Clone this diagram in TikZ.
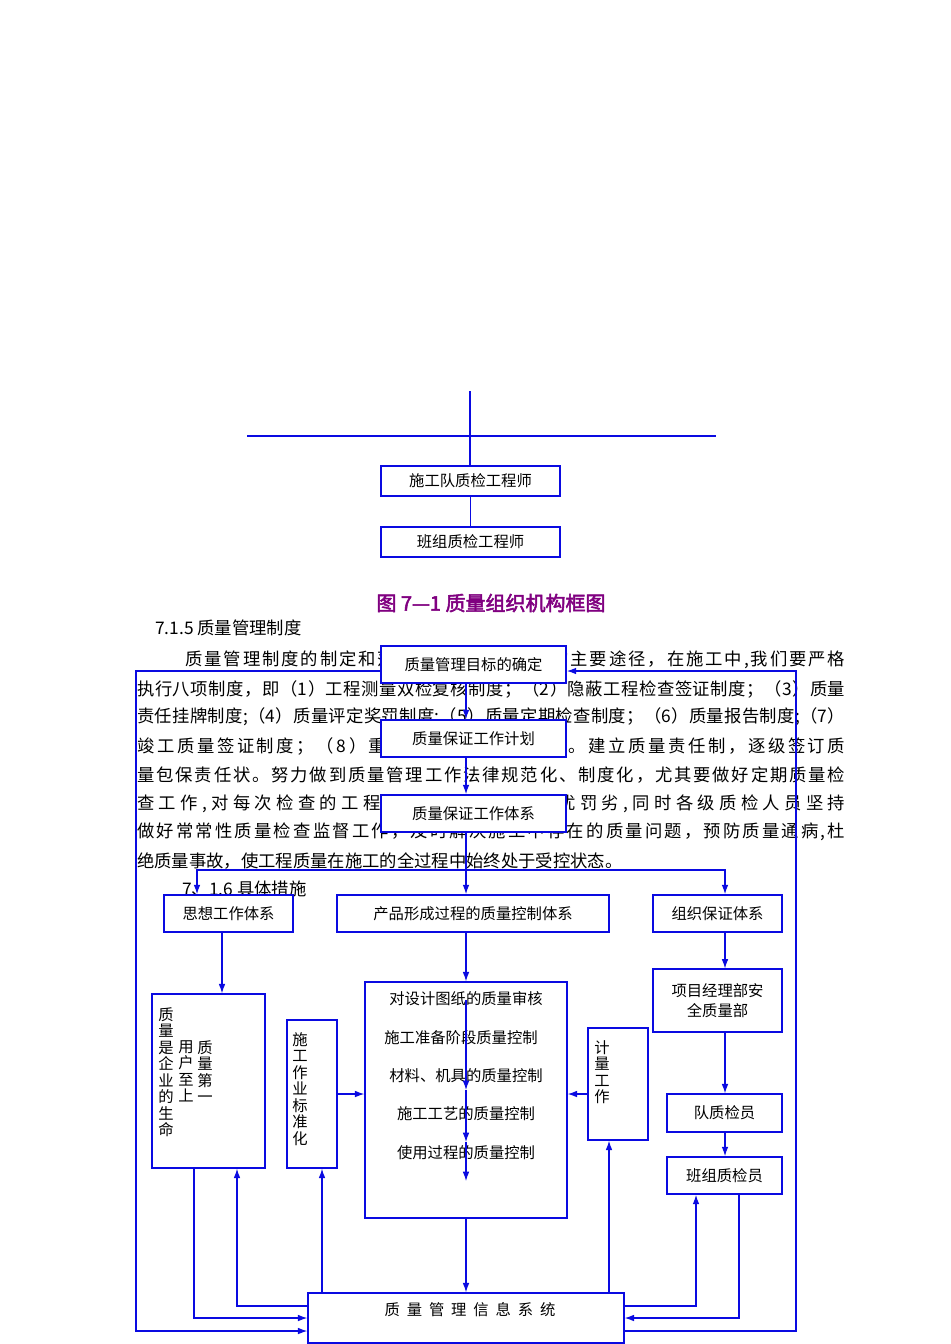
\documentclass[tikz,border=0pt]{standalone}
\usepackage{fontspec}
\setmainfont{Noto Sans CJK SC}
\newfontfamily\cjkb[FakeBold=2.5]{Noto Sans CJK SC}
\usetikzlibrary{arrows.meta}
\definecolor{lb}{RGB}{10,10,225}
\definecolor{tp}{RGB}{128,0,128}
\ExplSyntaxOn
\NewDocumentCommand\jl{O{0pt}m}{\hbox to 531pt{\hskip #1 \tl_map_inline:nn{#2}{##1\hfil}\unskip}}
\ExplSyntaxOff
\tikzset{
 bx/.style={draw=lb,line width=1.1pt,fill=white,inner sep=0pt,font=\fontsize{11.5pt}{14pt}\selectfont},
 ln/.style={draw=lb,line width=0.8pt},
 ar/.style={ln,-{Latex[length=7pt,width=5pt]}},
 pl/.style={anchor=west,inner sep=0pt,font=\fontsize{13pt}{16pt}\selectfont},
 vt/.style={anchor=north,inner sep=0pt,align=center,font=\fontsize{11.5pt}{12.4pt}\selectfont}
}
\begin{document}
\begin{tikzpicture}[x=0.75pt,y=-0.75pt]
\useasboundingbox (0,0) rectangle (950,1344);
% top org chart fragment
\draw[ln] (470,391) -- (470,466);
\draw[ln] (247,436) -- (716,436);
\node[bx,minimum width=134pt,minimum height=22.5pt] (t1) at (470.5,481) {施工队质检工程师};
\node[bx,minimum width=134pt,minimum height=22.5pt] (t2) at (470.5,542) {班组质检工程师};
\draw[ln] (t1) -- (t2);
\node[text=tp,font=\cjkb\fontsize{15pt}{18pt}\selectfont] (title) at (491,603) {图 7—1 质量组织机构框图};
\node[pl] (h1) at (155,628) {7.1.5 质量管理制度};
% paragraph
\node[pl] (p1) at (137,660) {\jl[36pt]{质量管理制度的制定和落实是保证工程质量的主要途径，在施工中,我们要严格}};
\node[pl] (p2) at (137,689) {\jl{执行八项制度，即（1）工程测量双检复核制度；（2）隐蔽工程检查签证制度；（3）质量}};
\node[pl] (p3) at (137,717) {\jl{责任挂牌制度;（4）质量评定奖罚制度;（5）质量定期检查制度；（6）质量报告制度;（7）}};
\node[pl] (p4) at (137,746) {\jl{竣工质量签证制度；（8）重点部位质量监控制度。建立质量责任制，逐级签订质}};
\node[pl] (p5) at (137,775) {\jl{量包保责任状。努力做到质量管理工作法律规范化、制度化，尤其要做好定期质量检}};
\node[pl] (p6) at (137,804) {\jl{查工作,对每次检查的工程质量进行评比，奖优罚劣,同时各级质检人员坚持}};
\node[pl] (p7) at (137,832) {\jl{做好常常性质量检查监督工作，及时解决施工中存在的质量问题，预防质量通病,杜}};
\node[pl] (p8) at (137,861) {绝质量事故，使工程质量在施工的全过程中始终处于受控状态。};
\node[pl] (h2) at (182,889) {7、1.6 具体措施};
% flowchart boxes
\node[bx,minimum width=139pt,minimum height=28pt] (b1) at (473.5,664.5) {质量管理目标的确定};
\node[bx,minimum width=139pt,minimum height=28pt] (b2) at (473.5,738.5) {质量保证工作计划};
\node[bx,minimum width=139pt,minimum height=28pt] (b3) at (473.5,813.5) {质量保证工作体系};
\node[bx,minimum width=97pt,minimum height=28pt] (c1) at (228.5,913.5) {思想工作体系};
\node[bx,minimum width=204pt,minimum height=28pt] (c2) at (473,913.5) {产品形成过程的质量控制体系};
\node[bx,minimum width=97pt,minimum height=28pt] (c3) at (717.5,913.5) {组织保证体系};
\node[bx,minimum width=85pt,minimum height=130.5pt] (d1) at (208.5,1081) {};
\node[vt] (d1a) at (166,1007) {质\\量\\是\\企\\业\\的\\生\\命};
\node[vt] (d1b) at (186,1040) {用\\户\\至\\上};
\node[vt] (d1c) at (205,1040) {质\\量\\第\\一};
\node[bx,minimum width=37.5pt,minimum height=111pt] (d2) at (312,1094) {};
\node[vt] (d2a) at (300,1032) {施\\工\\作\\业\\标\\准\\化};
\node[bx,minimum width=151.5pt,minimum height=177pt] (d3) at (466,1100) {};
\node[font=\fontsize{11.5pt}{14pt}\selectfont] (e1) at (466,999) {对设计图纸的质量审核};
\node[font=\fontsize{11.5pt}{14pt}\selectfont] (e2) at (461,1038) {施工准备阶段质量控制};
\node[font=\fontsize{11.5pt}{14pt}\selectfont] (e3) at (466,1076) {材料、机具的质量控制};
\node[font=\fontsize{11.5pt}{14pt}\selectfont] (e4) at (466,1114) {施工工艺的质量控制};
\node[font=\fontsize{11.5pt}{14pt}\selectfont] (e5) at (466,1153) {使用过程的质量控制};
\node[bx,minimum width=45pt,minimum height=84pt] (d4) at (618,1084) {};
\node[vt] (d4a) at (602,1040) {计\\量\\工\\作};
\node[bx,minimum width=97pt,minimum height=47pt,align=center,font=\fontsize{11.5pt}{14.5pt}\selectfont] (f1) at (717.5,1000.5) {项目经理部安\\全质量部};
\node[bx,minimum width=86pt,minimum height=28.5pt] (f2) at (724.5,1113) {队质检员};
\node[bx,minimum width=86pt,minimum height=28pt] (f3) at (724.5,1175.5) {班组质检员};
\node[bx,minimum width=237pt,minimum height=37.5pt] (s) at (466,1318) {};
\node[font=\fontsize{11.5pt}{14pt}\selectfont] (st) at (470,1310) {质\ \ 量\ \ 管\ \ 理\ \ 信\ \ 息\ \ 系\ \ 统};
% internal arrows in big box
\coordinate (i0) at (466,1000);
\coordinate (i1) at (466,1090);
\coordinate (i2) at (466,1142);
\coordinate (i3) at (466,1181);
\draw[ar] (i0) -- (i1);
\draw[ar] (i1) -- (i2);
\draw[ar] (i2) -- (i3);
% flow arrows
\draw[ar] (b1.south -| 466,0) -- (b2.north -| 466,0);
\draw[ar] (b2.south -| 466,0) -- (b3.north -| 466,0);
\draw[ar] (b3.south -| 466,0) -- (c2.north -| 466,0);
\coordinate (j) at (466,870);
\draw[ar] (j) -- (197,870) -- (c1.north -| 197,0);
\draw[ar] (j) -- (725,870) -- (c3.north -| 725,0);
\draw[ar] (c1.south -| 222,0) -- (d1.north -| 222,0);
\draw[ar] (c2.south -| 466,0) -- (d3.north -| 466,0);
\draw[ar] (d2.east |- 0,1094) -- (d3.west |- 0,1094);
\draw[ar] (d4.west |- 0,1094) -- (d3.east |- 0,1094);
\draw[ar] (c3.south -| 725,0) -- (f1.north -| 725,0);
\draw[ar] (f1.south -| 725,0) -- (f2.north -| 725,0);
\draw[ar] (f2.south -| 725,0) -- (f3.north -| 725,0);
\draw[ar] (d3.south -| 466,0) -- (s.north -| 466,0);
% bottom connections
\draw[ar] (d1.south -| 194,0) -- (194,1318) -- (s.west |- 0,1318);
\draw[ar] (s.west |- 0,1306) -- (237,1306) -- (d1.south -| 237,0);
\draw[ar] (s.north -| 322,0) -- (d2.south -| 322,0);
\draw[ar] (s.north -| 609,0) -- (d4.south -| 609,0);
\draw[ar] (s.east |- 0,1306) -- (696,1306) -- (f3.south -| 696,0);
\draw[ar] (f3.south -| 739,0) -- (739,1318) -- (s.east |- 0,1318);
% outer loop
\draw[ar] (s.east |- 0,1331) -- (796,1331) -- (796,671) -- (b1.east |- 0,671);
\draw[ar] (b1.west |- 0,671) -- (136,671) -- (136,1331) -- (s.west |- 0,1331);
\end{tikzpicture}
\end{document}
